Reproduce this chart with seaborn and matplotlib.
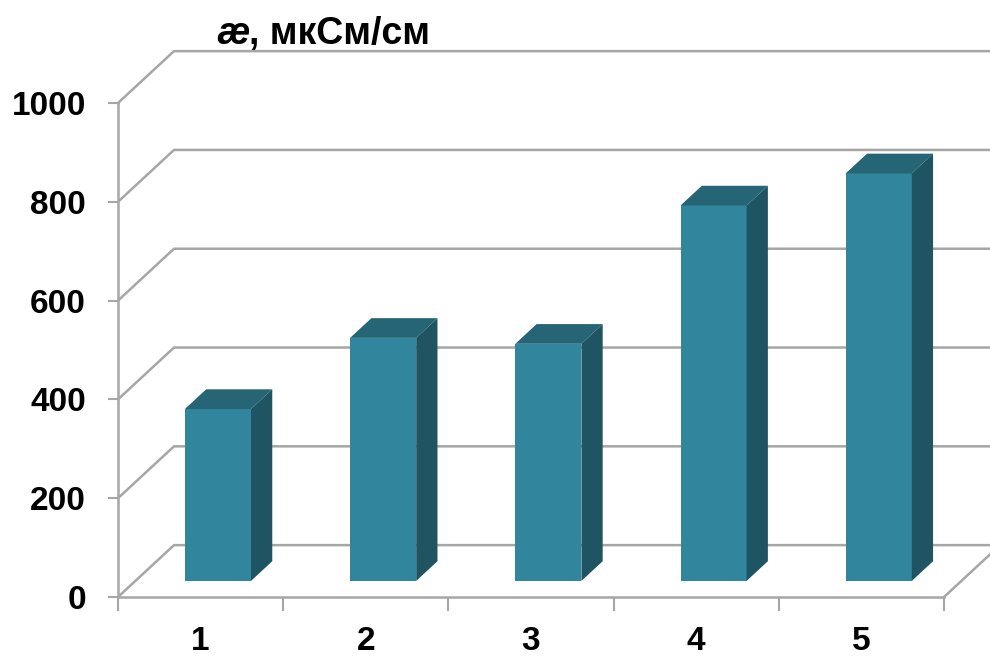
import matplotlib
matplotlib.use('Agg')
import matplotlib.pyplot as plt
import seaborn as sns
import pandas as pd
from matplotlib.patches import Polygon

# data
samples = ["1", "2", "3", "4", "5"]
conductivity = [348, 492, 480, 760, 825]
y_ticks = [0, 200, 400, 600, 800, 1000]

front_col = "#31859C"
top_col = "#256576"
side_col = "#1F5562"
grid_col = "#A6A6A6"

sns.set_theme(style="white")
plt.rcParams['font.family'] = ['Liberation Sans', 'DejaVu Sans']

df = pd.DataFrame({"sample": samples, "value": conductivity})

fig = plt.figure(figsize=(9.9, 6.61), dpi=100)
ax = fig.add_axes([118 / 990, 64 / 661, 826 / 990, 494 / 661])
ax.set_xlim(-0.5, 4.5)
ax.set_ylim(0, 1000)

# fake 3d depth (in data units)
DX = 0.339
DY = 105
f0, f1 = 0.31, 0.69

# walls: diagonal on left wall + horizontal on back wall
for v in y_ticks:
    ax.plot([-0.5, -0.5 + DX, 4.5 + DX], [v, v + DY, v + DY],
            color=grid_col, lw=1.8, clip_on=False, zorder=1)
# floor right edge
ax.plot([4.5, 4.5 + DX], [0, DY], color=grid_col, lw=1.8, clip_on=False, zorder=1)

sns.barplot(data=df, x="sample", y="value", color=front_col, width=0.4,
            saturation=1, ax=ax, zorder=3)

for p in ax.patches:
    p.set_edgecolor("none")
    x0 = p.get_x() + f0 * DX
    w = p.get_width()
    h = p.get_height()
    p.set_x(x0)
    p.set_y(f0 * DY)
    y0 = f0 * DY
    d_x = (f1 - f0) * DX
    d_y = (f1 - f0) * DY
    top = Polygon([(x0, y0 + h), (x0 + w, y0 + h), (x0 + w + d_x, y0 + h + d_y),
                   (x0 + d_x, y0 + h + d_y)], closed=True, fc=top_col, ec="none",
                  zorder=3, clip_on=False)
    side = Polygon([(x0 + w, y0), (x0 + w + d_x, y0 + d_y), (x0 + w + d_x, y0 + h + d_y),
                    (x0 + w, y0 + h)], closed=True, fc=side_col, ec="none",
                   zorder=3, clip_on=False)
    ax.add_patch(top)
    ax.add_patch(side)
    p.set_clip_on(False)

ax.set_xlabel("")
ax.set_ylabel("")
for s in ["top", "right"]:
    ax.spines[s].set_visible(False)
for s in ["left", "bottom"]:
    ax.spines[s].set_color(grid_col)
    ax.spines[s].set_linewidth(1.8)
    ax.spines[s].set_zorder(2)

ax.set_yticks(y_ticks)
ax.set_yticklabels([str(v) for v in y_ticks], fontsize=24, fontweight="bold", color="black")
ax.tick_params(axis="y", direction="out", length=7, width=1.5, color=grid_col, pad=16, left=True)

ax.set_xticks(range(len(samples)))
ax.set_xticklabels(samples, fontsize=24, fontweight="bold", color="black")
ax.set_xticks([i - 0.5 for i in range(len(samples) + 1)], minor=True)
ax.tick_params(axis="x", which="major", length=0, pad=21)
ax.tick_params(axis="x", which="minor", direction="out", length=10, width=1.5,
               color=grid_col, bottom=True)

# title: bold italic ae, then the units
t1 = fig.text(216 / 990, (661 - 44) / 661, "æ", fontsize=27, fontweight="bold",
              fontstyle="italic", va="baseline", ha="left", color="black")
ax.annotate(", мкСм/см", xy=(1, 0), xycoords=t1, fontsize=27, fontweight="bold",
            va="bottom", ha="left", annotation_clip=False, color="black")

fig.savefig("out.png", dpi=100)
